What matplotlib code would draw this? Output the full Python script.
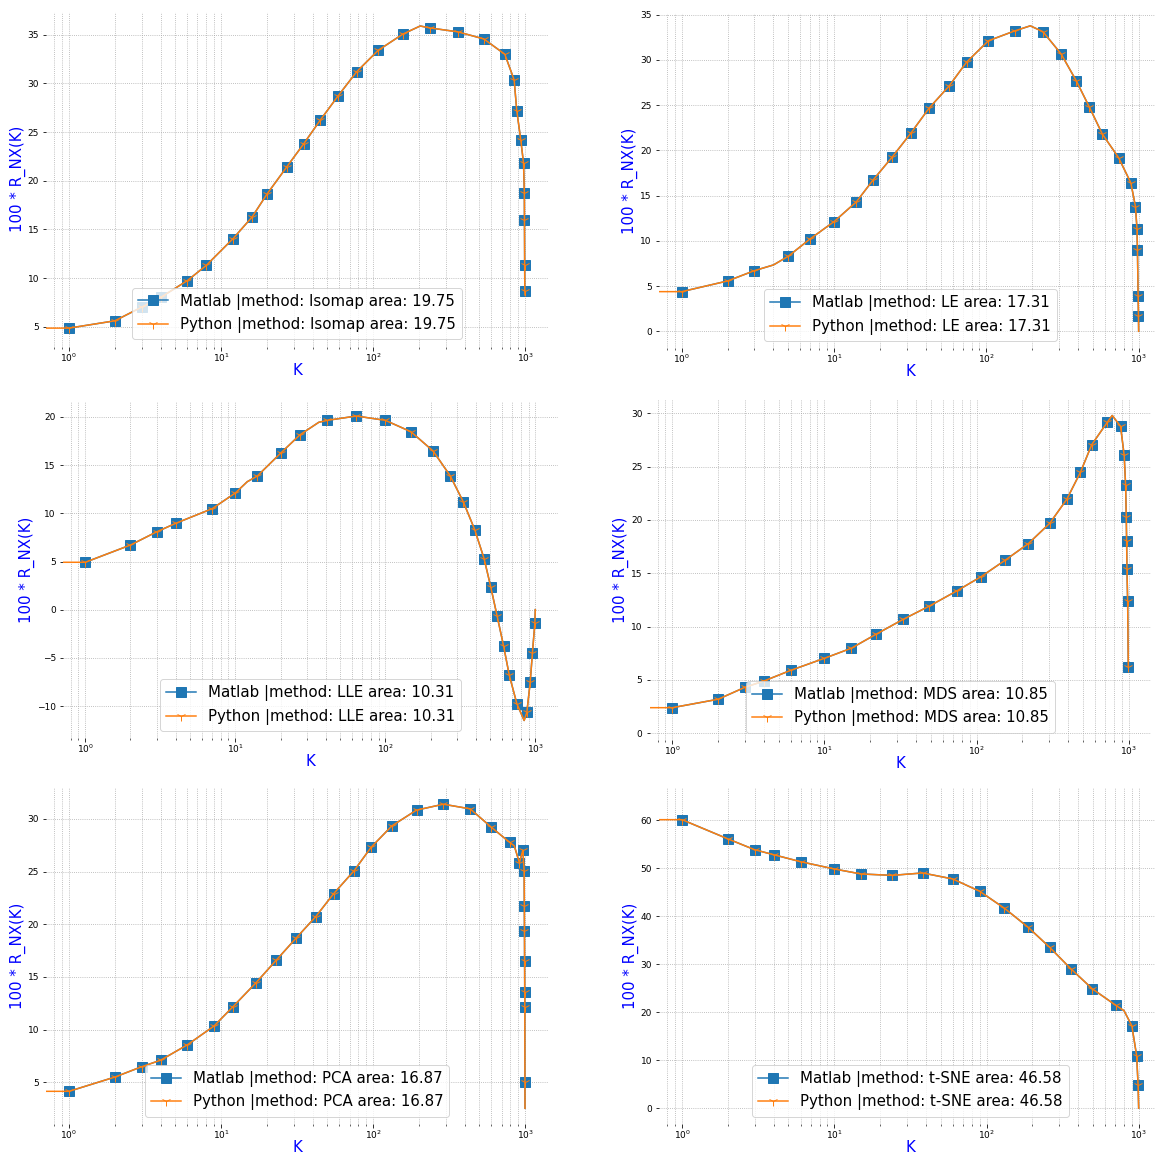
import numpy as np
import matplotlib
matplotlib.use("Agg")
import matplotlib.pyplot as plt

W, H, DPI = 1155, 1156, 72

methods = ["Isomap", "LE", "LLE", "MDS", "PCA", "t-SNE"]
areas = [19.75, 17.31, 10.31, 10.85, 16.87, 46.58]

# punti con marker
isomap_k = [1, 2, 3, 4, 6, 8, 12, 16, 20, 27, 35, 45, 59, 78, 108, 157, 237, 361,
            535, 735, 847, 881, 937, 976, 988, 990, 993, 995]
isomap_r = [4.85, 5.6, 7.0, 8.0, 9.73, 11.3, 14.05, 16.27, 18.6, 21.4, 23.8, 26.24,
            28.74, 31.2, 33.4, 35.07, 35.7, 35.3, 34.57, 33.0, 30.35, 27.2, 24.15,
            21.8, 18.77, 16.0, 11.34, 8.7]
# punti solo linea
isomap_xk = [204, 998]
isomap_xr = [35.9, 8.26]

le_k = [1, 2, 3, 5, 7, 10, 14, 18, 24, 32, 42, 57, 74, 103, 154, 235, 309, 388,
        473, 576, 736, 887, 951, 973, 980, 990, 995]
le_r = [4.38, 5.56, 6.7, 8.29, 10.24, 12.12, 14.3, 16.7, 19.23, 21.92, 24.65, 27.12,
        29.73, 32.1, 33.2, 33.1, 30.65, 27.7, 24.8, 21.8, 19.2, 16.4, 13.78, 11.34,
        8.99, 3.94, 1.72]
le_xk = [4, 194, 998]
le_xr = [7.33, 33.75, 0.0]

lle_k = [1, 2, 3, 4, 7, 10, 14, 20, 27, 41, 64, 100, 148, 208, 270, 331, 394, 455,
         504, 556, 613, 669, 752, 877, 923, 955, 991]
lle_r = [4.92, 6.71, 8.09, 8.96, 10.48, 12.11, 13.87, 16.23, 18.16, 19.65, 20.1,
         19.65, 18.47, 16.47, 13.91, 11.18, 8.3, 5.29, 2.35, -0.69, -3.74, -6.78,
         -9.76, -10.63, -7.52, -4.47, -1.42]
lle_xk = [12, 36, 841, 998]
lle_xr = [13.28, 19.45, -11.5, 0.0]

mds_k = [1, 2, 3, 4, 6, 10, 15, 22, 33, 49, 74, 107, 154, 219, 303, 392, 482, 572,
         726, 885, 935, 955, 965, 970, 975, 985, 995]
mds_r = [2.4, 3.19, 4.31, 4.9, 5.9, 7.03, 7.97, 9.31, 10.69, 11.93, 13.34, 14.68,
         16.22, 17.78, 19.69, 21.94, 24.47, 27.06, 29.19, 28.78, 26.06, 23.31, 20.31,
         18.06, 15.43, 12.43, 6.24]
mds_xk = [780]
mds_xr = [29.8]

pca_k = [1, 2, 3, 4, 6, 9, 12, 17, 23, 31, 42, 55, 75, 97, 133, 193, 290, 435, 600,
         793, 917, 966, 985, 988, 990, 992, 994, 995, 997]
pca_r = [4.15, 5.5, 6.48, 7.1, 8.56, 10.35, 12.19, 14.46, 16.57, 18.65, 20.73, 22.9,
         25.08, 27.3, 29.34, 30.83, 31.39, 30.95, 29.2, 27.76, 25.84, 27.04, 25.08,
         21.77, 19.34, 16.54, 13.57, 12.15, 5.0]
pca_xk = [848, 998]
pca_xr = [27.45, 2.54]

tsne_k = [1, 2, 3, 4, 6, 10, 15, 24, 38, 60, 90, 131, 187, 260, 357, 496, 705, 900,
          968, 989]
tsne_r = [60.1, 56.1, 53.84, 52.8, 51.35, 49.83, 48.79, 48.5, 49.0, 47.75, 45.19,
          41.66, 37.72, 33.5, 29.07, 24.84, 21.45, 17.16, 10.93, 4.91]
tsne_xk = [800, 998]
tsne_xr = [20.3, 0.0]

curves = [
    (isomap_k, isomap_r, isomap_xk, isomap_xr),
    (le_k, le_r, le_xk, le_xr),
    (lle_k, lle_r, lle_xk, lle_xr),
    (mds_k, mds_r, mds_xk, mds_xr),
    (pca_k, pca_r, pca_xk, pca_xr),
    (tsne_k, tsne_r, tsne_xk, tsne_xr),
]

# riquadri degli assi in pixel: sinistra, alto, destra, basso
boxes = [
    (46.2, 11.7, 547.8, 346.7),
    (658.9, 12.7, 1161.5, 348.3),
    (62.8, 400.7, 557.8, 738.3),
    (649.5, 400.0, 1151.1, 740.0),
    (46.2, 788.3, 547.8, 1124.0),
    (659.2, 788.0, 1161.5, 1124.0),
]
ylims = [(2.94, 37.37), (-1.88, 35.2), (-13.35, 21.69), (-0.63, 31.25),
         (1.05, 32.9), (-3.3, 66.7)]


def build_line(k, r, xk, xr):
    kk = np.array(list(k) + list(xk), dtype=float)
    rr = np.array(list(r) + list(xr), dtype=float)
    order = np.argsort(kk, kind="stable")
    is_mark = np.r_[np.ones(len(k), bool), np.zeros(len(xk), bool)][order]
    return kk[order], rr[order], is_mark


def plot_panel(fig, box, ylim, curve, name, area):
    l, t, r_, b = box
    ax = fig.add_axes([l / W, 1 - b / H, (r_ - l) / W, (b - t) / H])
    k, r, mark = build_line(*curve)

    ax.plot(k, r, color="#1f77b4", lw=1.5, marker="s", markersize=10,
            markevery=list(np.where(mark)[0]),
            label=f"Matlab |method: {name} area: {area:.2f}")
    # la curva Python parte da K=0 (sull'asse log finisce fuori a sinistra)
    k_py = np.r_[0, k]
    r_py = np.r_[r[0], r]
    ax.plot(k_py, r_py, color="#ff7f0e", lw=1.5, marker="1", markersize=10,
            markevery=list(np.where(np.r_[False, mark])[0]),
            label=f"Python |method: {name} area: {area:.2f}")

    ax.set_xscale("log")
    ax.set_ylim(*ylim)
    ax.grid(True, which="both", ls=":", color="0.65", lw=0.8)
    for s in ax.spines.values():
        s.set_visible(False)
    ax.tick_params(axis="both", labelsize=9)
    ax.tick_params(axis="x", pad=1)
    ax.set_xlabel("K", color="blue", fontsize=15, labelpad=-1)
    ax.set_ylabel("100 * R_NX(K)", color="blue", fontsize=15, labelpad=2)
    ax.legend(loc="lower center", fontsize=15)
    return ax


if __name__ == "__main__":
    plt.rcParams["font.size"] = 10
    fig = plt.figure(figsize=(W / DPI, H / DPI), dpi=DPI)
    for box, ylim, curve, name, area in zip(boxes, ylims, curves, methods, areas):
        plot_panel(fig, box, ylim, curve, name, area)
    fig.savefig("out.png", dpi=DPI)
